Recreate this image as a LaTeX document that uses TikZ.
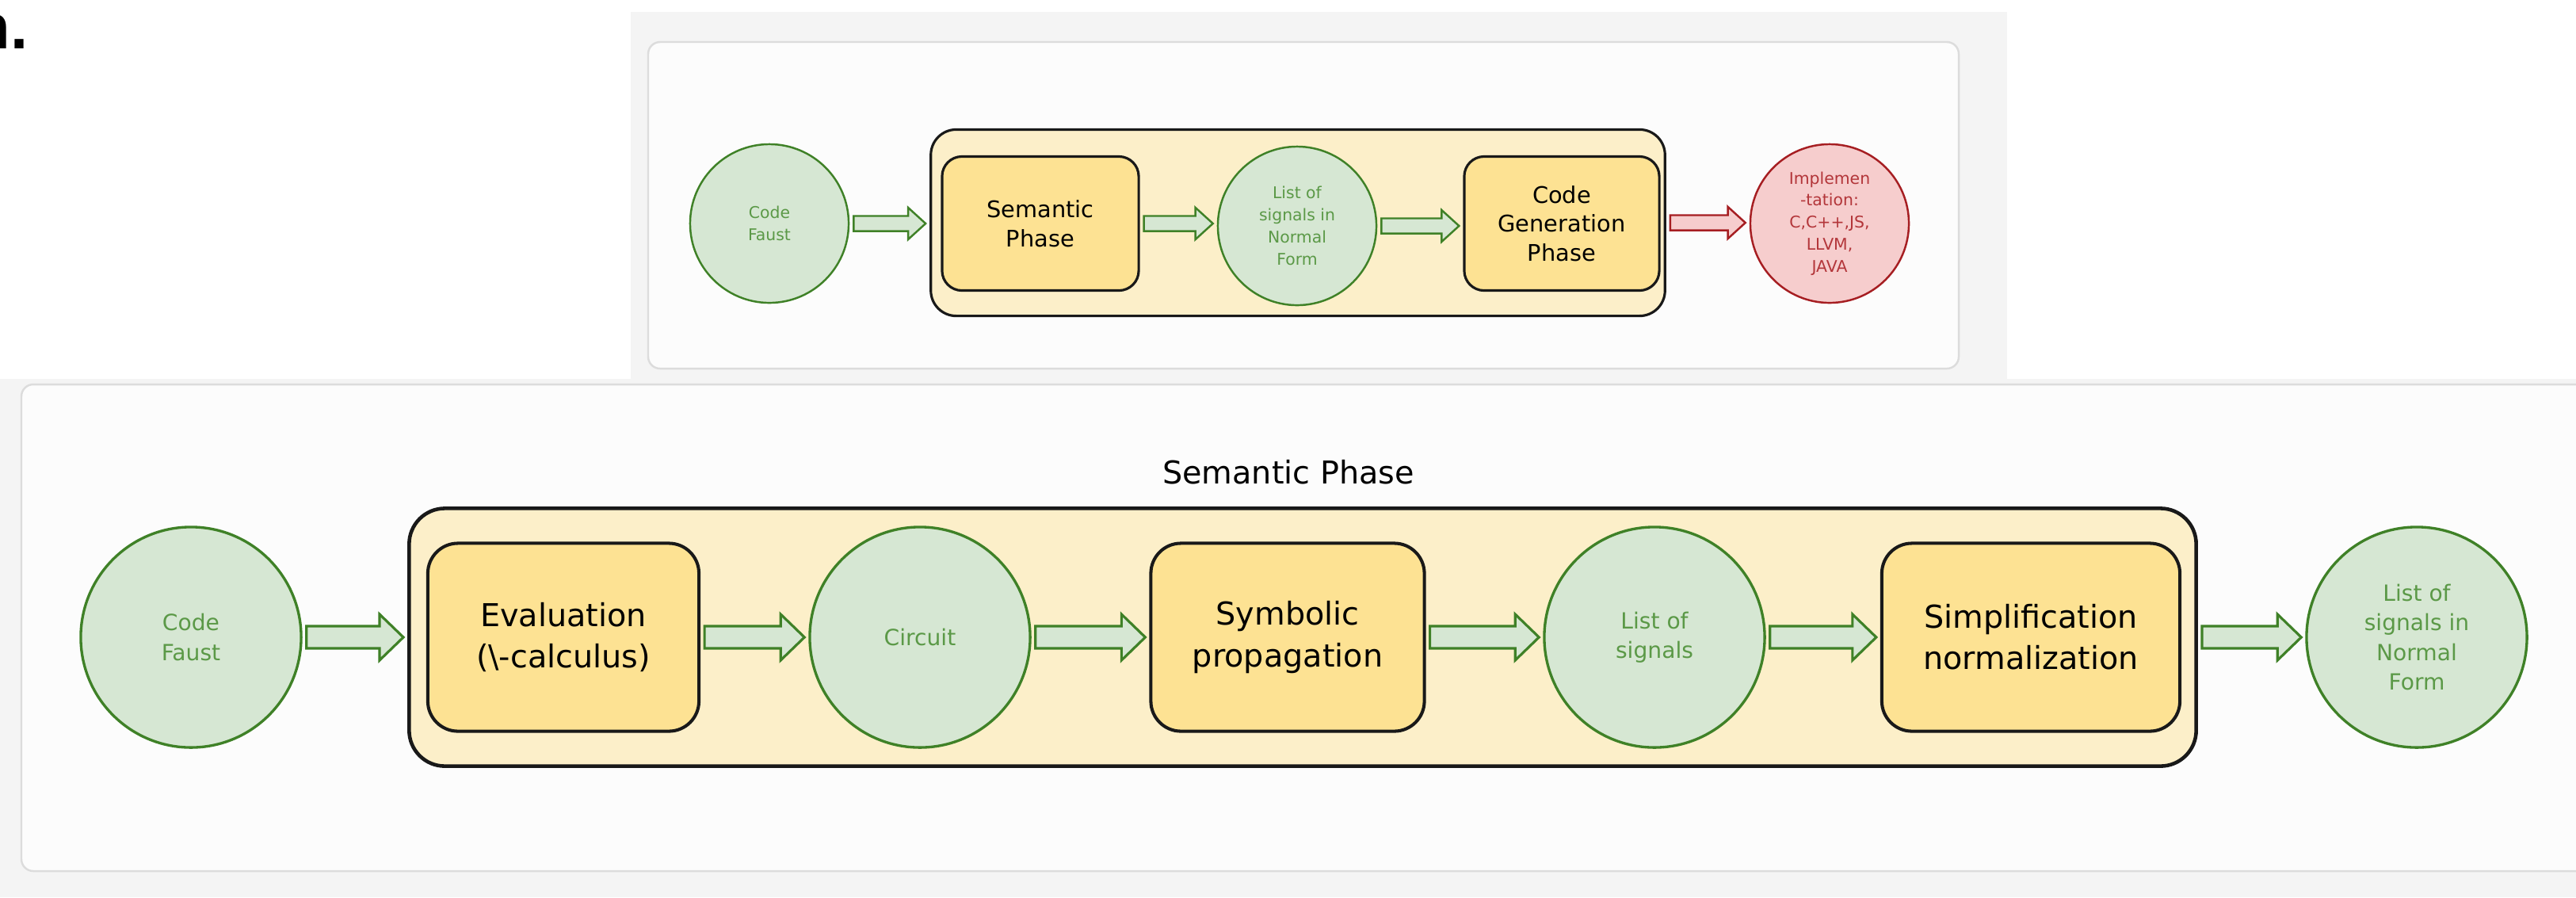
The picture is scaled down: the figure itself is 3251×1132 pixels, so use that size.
\documentclass[tikz,border=0pt]{standalone}
\usepackage{fontspec}
\setmainfont{DejaVu Sans}
\newfontfamily\headfont{Liberation Sans}
\usetikzlibrary{calc,positioning}

\definecolor{panelgrey}{HTML}{F4F4F4}
\definecolor{cardfill}{HTML}{FCFCFC}
\definecolor{cardline}{HTML}{DCDCDC}
\definecolor{phasefill}{HTML}{FCEFC9}
\definecolor{stepfill}{HTML}{FDE293}
\definecolor{leaffill}{HTML}{D6E7D3}
\definecolor{leafline}{HTML}{3F8127}
\definecolor{leaftext}{HTML}{5B9947}
\definecolor{redfill}{HTML}{F6CDCD}
\definecolor{redline}{HTML}{A61E22}
\definecolor{redtext}{HTML}{B3363A}

% block arrow: style, from, to, shaft half width, head half width, head length
\newcommand{\flowarrow}[6]{%
  \draw[#1] let \p1=($(#2.east)+(5,0)$), \p2=($(#3.west)+(-5,0)$) in
    (\x1,\y1+#4) -- (\x2-#6,\y1+#4) -- (\x2-#6,\y1+#5) -- (\x2,\y1)
    -- (\x2-#6,\y1-#5) -- (\x2-#6,\y1-#4) -- (\x1,\y1-#4) -- cycle;
}

\begin{document}
\begin{tikzpicture}[x=0.01cm, y=-0.01cm,
    card/.style={fill=cardfill, draw=cardline, line width=0.7pt, rounded corners=0.15cm},
    phasebox/.style={draw=black!90, fill=phasefill, line width=1.3pt, rounded corners=0.45cm},
    stepbox/.style={draw=black!90, fill=stepfill, line width=1.15pt, rounded corners=0.38cm,
      align=center, inner sep=0pt, minimum height=2.37cm, font=\fontsize{11.3}{14.8}\selectfont},
    datanode/.style={circle, draw=leafline, fill=leaffill, text=leaftext, line width=0.95pt,
      align=center, inner sep=0pt, minimum size=2.78cm, font=\fontsize{8}{10.6}\selectfont},
    greenarrow/.style={draw=leafline, fill=leaffill, line width=0.9pt},
    % small versions for the overview strip
    phasesmall/.style={phasebox, line width=0.9pt, rounded corners=0.32cm},
    stepsmall/.style={stepbox, line width=0.9pt, rounded corners=0.25cm,
      minimum height=1.69cm, font=\fontsize{8.2}{10.4}\selectfont},
    datasmall/.style={datanode, line width=0.7pt, minimum size=2cm,
      font=\fontsize{5.8}{7.9}\selectfont},
    outsmall/.style={datasmall, draw=redline, fill=redfill, text=redtext},
    redarrow/.style={draw=redline, fill=redfill, line width=0.7pt},
    greensmall/.style={greenarrow, line width=0.7pt}]

    \useasboundingbox (0,0) rectangle (3251,1132);
    \fill[white] (0,0) rectangle (3251,1132);

    % Page background and cards
    \fill[panelgrey] (796,15) rectangle (2533,478);
    \draw[card] (818,53) rectangle (2472,465);
    \fill[panelgrey] (0,478) rectangle (3251,1132);
    \draw[card] (27,485) rectangle (3320,1099);
    \node[font=\headfont\bfseries\fontsize{22.6}{26}\selectfont, anchor=base east,
      inner sep=0pt] (heading) at (36,61) {n.};

    % Overview strip
    \node[phasesmall, minimum width=9.26cm, minimum height=2.35cm] (semtop) at (1638,281) {};
    \node[datasmall] (cf1) at (971,282) {Code\\Faust};
    \node[stepsmall, minimum width=2.48cm] (sembox) at (1313,282) {Semantic\\Phase};
    \node[datasmall] (nf1) at (1637,285) {List of\\signals in\\Normal\\Form};
    \node[stepsmall, minimum width=2.46cm] (cgbox) at (1971,282) {Code\\Generation\\Phase};
    \node[outsmall] (impl) at (2309,282) {Implemen\\-tation:\\C,C++,JS,\\LLVM,\\JAVA};

    \flowarrow{greensmall}{cf1}{semtop}{0.095cm}{0.2cm}{0.22cm}
    \flowarrow{greensmall}{sembox}{nf1}{0.095cm}{0.2cm}{0.22cm}
    \flowarrow{greensmall}{nf1}{cgbox}{0.095cm}{0.2cm}{0.22cm}
    \flowarrow{redarrow}{semtop}{impl}{0.095cm}{0.2cm}{0.22cm}

    % Semantic phase in detail
    \node[font=\fontsize{11.3}{14}\selectfont] (semtitle) at (1626,596) {Semantic Phase};
    \node[phasebox, minimum width=22.54cm, minimum height=3.25cm] (semphase) at (1644,804) {};
    \node[datanode] (cf2) at (241,804) {Code\\Faust};
    \node[stepbox, minimum width=3.42cm] (eval) at (711,804) {Evaluation\\(\textbackslash-calculus)};
    \node[datanode] (circuit) at (1161,804) {Circuit};
    \node[stepbox, minimum width=3.45cm] (symb) at (1625,804) {Symbolic\\propagation};
    \node[datanode] (sigs) at (2088,804) {List of\\signals};
    \node[stepbox, minimum width=3.76cm] (simpl) at (2563,804) {Simplification\\normalization};
    \node[datanode] (nf2) at (3050,804) {List of\\signals in\\Normal\\Form};

    \flowarrow{greenarrow}{cf2}{semphase}{0.14cm}{0.29cm}{0.3cm}
    \flowarrow{greenarrow}{eval}{circuit}{0.14cm}{0.29cm}{0.3cm}
    \flowarrow{greenarrow}{circuit}{symb}{0.14cm}{0.29cm}{0.3cm}
    \flowarrow{greenarrow}{symb}{sigs}{0.14cm}{0.29cm}{0.3cm}
    \flowarrow{greenarrow}{sigs}{simpl}{0.14cm}{0.29cm}{0.3cm}
    \flowarrow{greenarrow}{semphase}{nf2}{0.14cm}{0.29cm}{0.3cm}
\end{tikzpicture}
\end{document}
